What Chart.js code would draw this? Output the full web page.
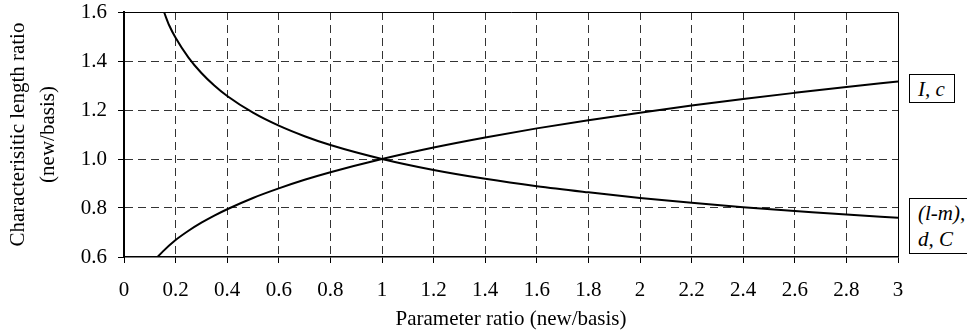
<!DOCTYPE html>
<html>
<head>
<meta charset="utf-8">
<script src="https://cdn.jsdelivr.net/npm/chart.js@4/dist/chart.umd.min.js"></script>
<style>
  html, body { margin: 0; padding: 0; background: #fff; }
  #wrap { position: relative; width: 967px; height: 335px; overflow: hidden; }
  .lbl {
    position: absolute;
    font-family: "Liberation Serif", "Times New Roman", serif;
    font-style: italic;
    font-size: 21px;
    color: #000;
    border: 1px solid #000;
    background: #fff;
    box-sizing: border-box;
    padding: 1px 8px;
    line-height: 26px;
    white-space: nowrap;
  }
</style>
</head>
<body>
<div id="wrap">
  <canvas id="chart" width="967" height="335"></canvas>
  <div class="lbl" style="left:909px; top:74px; width:46px; height:29px;">I, c</div>
  <div class="lbl" style="left:909px; top:198px; width:70px; height:56px;">(l-m),<br>d, C</div>
</div>
<script>
// Werte
const xUp = [0.13, 0.15, 0.2, 0.25, 0.3, 0.35, 0.4, 0.5, 0.6, 0.7, 0.8, 1, 1.2, 1.4, 1.6, 1.8, 2, 2.2, 2.4, 2.6, 2.8, 3];
const yUp = [0.60, 0.622, 0.669, 0.707, 0.74, 0.769, 0.795, 0.841, 0.88, 0.915, 0.946, 1.00, 1.047, 1.088, 1.125, 1.158, 1.189, 1.218, 1.245, 1.27, 1.294, 1.316];

const xDown = [0.155, 0.175, 0.2, 0.25, 0.3, 0.35, 0.4, 0.5, 0.6, 0.7, 0.8, 1, 1.2, 1.4, 1.6, 1.8, 2, 2.2, 2.4, 2.6, 2.8, 3];
const yDown = [1.6, 1.546, 1.495, 1.414, 1.351, 1.300, 1.257, 1.189, 1.136, 1.093, 1.057, 1.00, 0.955, 0.919, 0.889, 0.864, 0.841, 0.821, 0.803, 0.788, 0.773, 0.76];

const xTicks = [0, 0.2, 0.4, 0.6, 0.8, 1, 1.2, 1.4, 1.6, 1.8, 2, 2.2, 2.4, 2.6, 2.8, 3];
const yTicks = [0.6, 0.8, 1.0, 1.2, 1.4, 1.6];

const serif = "'Liberation Serif', 'Times New Roman', serif";

// Rahmen oben und rechts
const frame = {
  id: "frame",
  afterDatasetsDraw(chart) {
    const a = chart.chartArea;
    const c = chart.ctx;
    c.save();
    c.strokeStyle = "#000";
    c.lineWidth = 1;
    c.setLineDash([]);
    c.beginPath();
    c.moveTo(a.left, a.top + 0.5);
    c.lineTo(a.right + 0.5, a.top + 0.5);
    c.lineTo(a.right + 0.5, a.bottom);
    c.stroke();
    c.restore();
  }
};

new Chart(document.getElementById("chart").getContext("2d"), {
  type: "scatter",
  data: {
    datasets: [
      {
        label: "I, c",
        data: xUp.map((x, i) => ({ x: x, y: yUp[i] })),
        showLine: true,
        borderColor: "#000",
        borderWidth: 2,
        pointRadius: 0,
        cubicInterpolationMode: "monotone"
      },
      {
        label: "(l-m), d, C",
        data: xDown.map((x, i) => ({ x: x, y: yDown[i] })),
        showLine: true,
        borderColor: "#000",
        borderWidth: 2,
        pointRadius: 0,
        cubicInterpolationMode: "monotone"
      }
    ]
  },
  options: {
    responsive: false,
    animation: false,
    layout: { padding: { top: 12, right: 69, left: 0, bottom: 0 } },
    plugins: { legend: { display: false }, tooltip: { enabled: false } },
    scales: {
      x: {
        type: "linear",
        min: 0,
        max: 3,
        afterFit: (s) => { s.height = 78; s.paddingLeft = 0; s.paddingRight = 0; },
        afterBuildTicks: (s) => { s.ticks = xTicks.map((v) => ({ value: v })); },
        ticks: {
          color: "#000",
          font: { family: serif, size: 21 },
          padding: 15,
          maxRotation: 0,
          autoSkip: false,
          callback: (v) => String(v)
        },
        grid: {
          color: (c) => (c.tick && (c.tick.value === 0 || c.tick.value === 3) ? "rgba(0,0,0,0)" : "#333"),
          lineWidth: 1,
          tickLength: 6,
          tickColor: "#000",
          tickBorderDash: [],
          tickWidth: 1
        },
        border: { display: true, color: "#000", width: 1.5, dash: [8, 5] },
        title: {
          display: true,
          text: "Parameter ratio (new/basis)",
          color: "#000",
          font: { family: serif, size: 21 },
          padding: { top: 0, bottom: 3 }
        }
      },
      y: {
        type: "linear",
        min: 0.6,
        max: 1.6,
        afterFit: (s) => { s.width = 124; s.paddingTop = 0; s.paddingBottom = 0; },
        afterBuildTicks: (s) => { s.ticks = yTicks.map((v) => ({ value: v })); },
        ticks: {
          color: "#000",
          font: { family: serif, size: 21 },
          padding: 11,
          autoSkip: false,
          callback: (v) => v.toFixed(1)
        },
        grid: {
          color: (c) => (c.tick && (c.tick.value === 0.6 || c.tick.value === 1.6) ? "rgba(0,0,0,0)" : "#333"),
          lineWidth: 1,
          tickLength: 6,
          tickColor: "#000",
          tickBorderDash: [],
          tickWidth: 1
        },
        border: { display: true, color: "#000", width: 2, dash: [8, 5] },
        title: {
          display: true,
          text: ["Characterisitic length ratio", "(new/basis)"],
          color: "#000",
          font: { family: serif, size: 21, lineHeight: 1.43 },
          padding: { top: 3, bottom: 0 }
        }
      }
    }
  },
  plugins: [frame]
});
</script>
</body>
</html>
